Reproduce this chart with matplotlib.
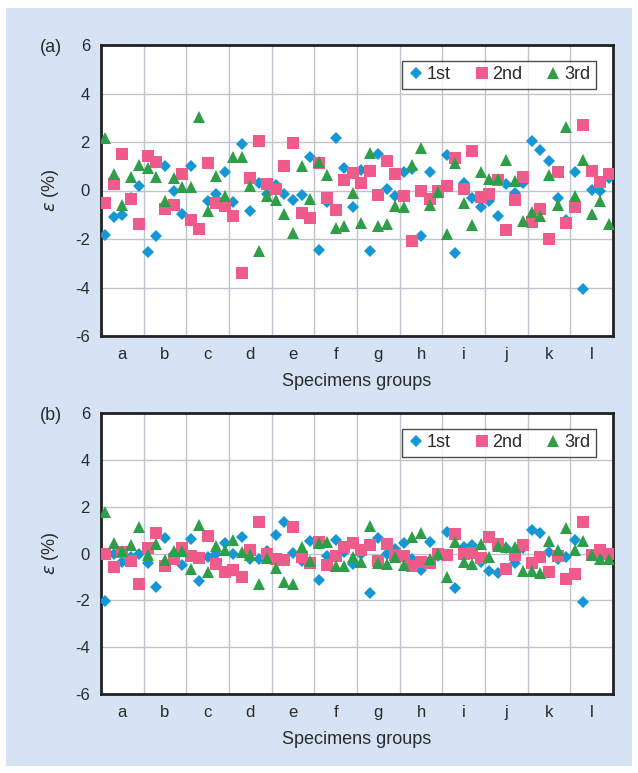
import matplotlib.pyplot as plt
import numpy as np
from matplotlib.patches import Rectangle

groups = ['a', 'b', 'c', 'd', 'e', 'f', 'g', 'h', 'i', 'j', 'k', 'l']
per_group = 5
series_names = ['1st', '2nd', '3rd']

# (a) strain per specimen, %
first_a = [-1.82, -1.10, -1.01, -0.30, 0.19, -2.52, -1.88, 1.01, -0.03, -0.95,
           0.99, -1.60, -0.42, -0.16, 0.75, -0.49, 1.90, -0.85, 0.30, -0.14,
           0.23, -0.16, -0.38, -0.18, 1.37, -2.44, -0.48, 2.16, 0.92, -0.68,
           0.85, -2.50, 1.51, 0.07, -0.21, 0.78, 0.89, -1.89, 0.78, -0.10,
           1.47, -2.56, 0.32, -0.30, -0.66, -0.44, -1.05, 0.27, -0.11, 0.30,
           2.04, 1.68, 1.23, -0.30, -1.20, 0.75, -4.08, 0.03, -0.04, 0.50]
second_a = [-0.51, 0.27, 1.51, -0.34, -1.37, 1.42, 1.18, -0.75, -0.58, 0.68,
            -1.23, -1.58, 1.14, -0.51, -0.62, -1.04, -3.42, 0.53, 2.05, 0.27,
            0.07, 0.99, 1.96, -0.92, -1.12, 1.14, -0.30, -0.79, 0.44, 0.71,
            0.32, 0.81, -0.18, 1.23, 0.68, -0.21, -2.10, 0.00, -0.34, -0.03,
            0.19, 1.32, 0.08, 1.64, -0.25, -0.16, 0.44, -1.64, -0.41, 0.55,
            -1.30, -0.75, -1.99, 0.78, -1.36, -0.66, 2.70, 0.82, 0.37, 0.68]
third_a = [2.16, 0.66, -0.60, 0.56, 1.04, 0.93, 0.56, -0.42, 0.51, 0.15,
           0.14, 3.04, -0.85, 0.59, -0.23, 1.38, 1.38, 0.18, -2.48, -0.23,
           -0.41, -0.96, -1.74, 0.99, -0.37, 1.16, 0.62, -1.53, -1.48, -0.12,
           -1.33, 1.55, -1.48, -1.38, -0.62, -0.68, 1.05, 1.75, -0.59, -0.07,
           -1.78, 1.12, -0.52, -1.44, 0.78, 0.48, 0.48, 1.27, 0.38, -1.26,
           -0.89, -1.07, 0.62, -0.59, 2.63, -0.22, 1.25, -0.95, -0.44, -1.37]

# (b)
first_b = [-2.02, -0.02, -0.35, -0.13, -0.02, -0.39, -1.45, 0.65, 0.00, -0.49,
           0.61, -1.18, -0.15, -0.02, 0.43, -0.04, 0.72, -0.25, -0.25, 0.12,
           0.79, 1.33, 0.01, -0.30, 0.55, -1.13, -0.09, 0.58, 0.08, -0.46,
           0.00, -1.70, 0.65, -0.04, 0.19, 0.43, -0.25, -0.71, 0.51, -0.10,
           0.90, -1.49, 0.29, 0.35, -0.35, -0.73, -0.85, 0.22, -0.42, 0.22,
           1.00, 0.86, 0.08, -0.25, -0.16, 0.58, -2.06, -0.06, -0.14, -0.14]
second_b = [0.00, -0.59, 0.08, -0.33, -1.32, 0.22, 0.86, -0.53, -0.22, 0.25,
            -0.11, -0.21, 0.73, -0.46, -0.80, -0.71, -0.99, 0.14, 1.36, -0.02,
            -0.25, -0.28, 1.12, -0.16, -0.42, 0.51, -0.49, -0.11, 0.29, 0.43,
            0.15, 0.36, -0.32, 0.41, -0.06, -0.09, -0.52, -0.35, -0.42, -0.02,
            -0.06, 0.82, -0.02, 0.01, -0.21, 0.69, 0.41, -0.68, -0.06, 0.35,
            -0.42, -0.16, -0.80, -0.11, -1.10, -0.88, 1.33, -0.06, 0.15, 0.00]
third_b = [1.79, 0.43, 0.12, 0.36, 1.15, -0.06, 0.39, -0.28, 0.12, 0.12,
           -0.68, 1.22, -0.78, 0.32, 0.15, 0.58, 0.08, -0.06, -1.32, -0.21,
           -0.63, -1.20, -1.30, 0.29, -0.31, 0.43, 0.51, -0.53, -0.53, -0.14,
           -0.35, 1.18, -0.42, -0.46, -0.16, -0.51, 0.72, 0.86, -0.25, -0.04,
           -0.99, 0.51, -0.38, -0.45, 0.39, -0.14, 0.33, 0.29, 0.26, -0.73,
           -0.73, -0.85, 0.55, 0.15, 1.10, 0.15, 0.55, -0.06, -0.25, -0.22]

plt.rcParams['font.family'] = ['Liberation Sans', 'DejaVu Sans']
plt.rcParams['mathtext.fontset'] = 'dejavusans'
plt.rcParams['axes.unicode_minus'] = False

colors = ['#1597d6', '#ef5b8b', '#2e9e48']
markers = ['D', 's', '^']
msizes = [6.0, 8.5, 8.0]
text_c = '#2b2b2b'

fig = plt.figure(figsize=(6.38, 7.73), dpi=100)
fig.patches.append(Rectangle((6 / 638, 1 - 766 / 773), 626 / 638, 758 / 773,
                             transform=fig.transFigure, facecolor='#d6e3f4',
                             edgecolor='none', zorder=-10))

n = len(groups) * per_group
x = np.arange(n) + 0.5

panels = [
    ('(a)', [first_a, second_a, third_a], [101, 45, 613, 336]),
    ('(b)', [first_b, second_b, third_b], [101, 413, 613, 694]),
]

for tag, data, (l, t, r, b) in panels:
    ax = fig.add_axes([l / 638, 1 - b / 773, (r - l) / 638, (b - t) / 773])
    ax.set_facecolor('white')
    for vals, c, m, ms, name in zip(data, colors, markers, msizes, series_names):
        ax.plot(x, vals, linestyle='none', marker=m, markersize=ms, color=c,
                markeredgewidth=0, label=name, zorder=3)

    ax.set_xlim(0, n)
    ax.set_ylim(-6, 6)
    ax.set_yticks(np.arange(-6, 7, 2))
    ax.set_xticks(np.arange(len(groups)) * per_group + per_group / 2)
    ax.set_xticklabels(groups)
    ax.set_xticks(np.arange(0, n + 1, per_group), minor=True)
    ax.tick_params(axis='both', which='both', length=0, labelsize=12,
                   labelcolor=text_c, pad=8)
    ax.grid(True, which='minor', axis='x', color='#bfc3cb', linewidth=1.0)
    ax.grid(True, which='major', axis='y', color='#bfc3cb', linewidth=1.0)
    ax.set_axisbelow(True)
    for sp in ax.spines.values():
        sp.set_linewidth(2.0)
        sp.set_color('#222222')

    ax.set_xlabel('Specimens groups', fontsize=13, color=text_c, labelpad=8)
    ax.set_ylabel(r'$\varepsilon$ (%)', fontsize=13, color=text_c, labelpad=10)

    leg = ax.legend(loc='upper right', ncol=3, fontsize=13, frameon=True,
                    fancybox=False, handletextpad=0.1, columnspacing=1.2,
                    borderpad=0.3, handlelength=1.0,
                    bbox_to_anchor=(0.984, 0.976))
    leg.get_frame().set_edgecolor('#222222')
    leg.get_frame().set_linewidth(1.0)
    for txt in leg.get_texts():
        txt.set_color(text_c)

    fig.text(40 / 638, 1 - (t + 2) / 773, tag, fontsize=13, color=text_c,
             va='center', ha='left')

fig.savefig('out.png', dpi=100, facecolor='white')
